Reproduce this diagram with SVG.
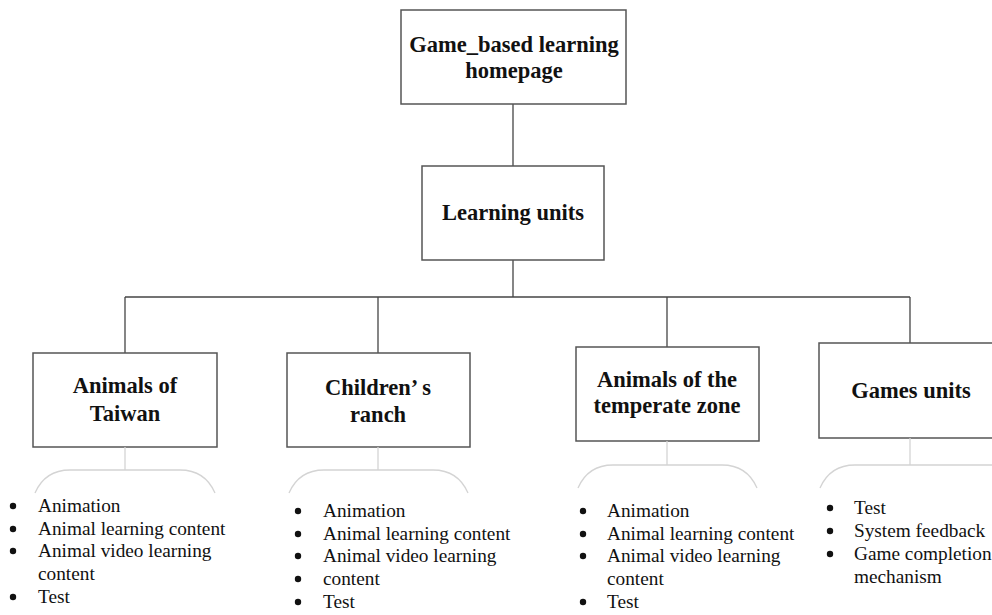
<svg xmlns="http://www.w3.org/2000/svg" width="992" height="615" viewBox="0 0 992 615">
<style>
.box{fill:#fff;stroke:#555;stroke-width:1.5}
.conn{stroke:#444;stroke-width:1.3;fill:none}
.brace{stroke:#d4d4d4;stroke-width:1.3;fill:none}
.t{font-family:"Liberation Serif",serif;font-weight:bold;font-size:22.5px;fill:#111;text-anchor:middle}
.l{font-family:"Liberation Serif",serif;font-size:19.3px;fill:#111}
.b{fill:#111}
</style>
<rect width="992" height="615" fill="#fff"/>
<g id="connectors">
<line class="conn" x1="513" y1="104" x2="513" y2="166"/>
<line class="conn" x1="513" y1="260" x2="513" y2="297"/>
<line class="conn" x1="125" y1="297" x2="910" y2="297"/>
<line class="conn" x1="125" y1="297" x2="125" y2="353"/>
<line class="conn" x1="378" y1="297" x2="378" y2="353"/>
<line class="conn" x1="667" y1="297" x2="667" y2="347"/>
<line class="conn" x1="910" y1="297" x2="910" y2="343"/>
</g>
<g id="homepage">
<rect class="box" x="401" y="10" width="225" height="94"/>
<text class="t" x="514" y="52">Game_based learning</text>
<text class="t" x="514" y="78">homepage</text>
</g>
<g id="learning-units">
<rect class="box" x="422" y="166" width="182" height="94"/>
<text class="t" x="513" y="220">Learning units</text>
</g>
<g id="taiwan">
<rect class="box" x="33" y="353" width="184" height="94"/>
<text class="t" x="125" y="393">Animals of</text>
<text class="t" x="125" y="421">Taiwan</text>
<path class="brace" d="M125 447 V470 M35 493 Q45 470 70 470 H180 Q205 470 215 493"/>
<circle class="b" cx="13" cy="506" r="3.2"/>
<circle class="b" cx="13" cy="529" r="3.2"/>
<circle class="b" cx="13" cy="551" r="3.2"/>
<circle class="b" cx="13" cy="597" r="3.2"/>
<text class="l" x="38" y="512">Animation</text>
<text class="l" x="38" y="535">Animal learning content</text>
<text class="l" x="38" y="557">Animal video learning</text>
<text class="l" x="38" y="580">content</text>
<text class="l" x="38" y="603">Test</text>
</g>
<g id="ranch">
<rect class="box" x="287" y="353" width="183" height="94"/>
<text class="t" x="378" y="395">Children’ s</text>
<text class="t" x="378" y="422">ranch</text>
<path class="brace" d="M378 447 V470 M289 493 Q299 470 324 470 H433 Q458 470 468 493"/>
<circle class="b" cx="298" cy="511" r="3.2"/>
<circle class="b" cx="298" cy="534" r="3.2"/>
<circle class="b" cx="298" cy="556" r="3.2"/>
<circle class="b" cx="298" cy="579" r="3.2"/>
<circle class="b" cx="298" cy="602" r="3.2"/>
<text class="l" x="323" y="517">Animation</text>
<text class="l" x="323" y="540">Animal learning content</text>
<text class="l" x="323" y="562">Animal video learning</text>
<text class="l" x="323" y="585">content</text>
<text class="l" x="323" y="608">Test</text>
</g>
<g id="temperate">
<rect class="box" x="576" y="347" width="183" height="94"/>
<text class="t" x="667" y="387">Animals of the</text>
<text class="t" x="667" y="413">temperate zone</text>
<path class="brace" d="M667 441 V465 M578 488 Q588 465 613 465 H722 Q747 465 757 488"/>
<circle class="b" cx="583" cy="511" r="3.2"/>
<circle class="b" cx="583" cy="534" r="3.2"/>
<circle class="b" cx="583" cy="556" r="3.2"/>
<circle class="b" cx="583" cy="602" r="3.2"/>
<text class="l" x="607" y="517">Animation</text>
<text class="l" x="607" y="540">Animal learning content</text>
<text class="l" x="607" y="562">Animal video learning</text>
<text class="l" x="607" y="585">content</text>
<text class="l" x="607" y="608">Test</text>
</g>
<g id="games">
<rect class="box" x="819" y="343" width="185" height="95"/>
<text class="t" x="911" y="398">Games units</text>
<path class="brace" d="M910 438 V465 M820 488 Q830 465 855 465 H992"/>
<circle class="b" cx="830" cy="508" r="3.2"/>
<circle class="b" cx="830" cy="531" r="3.2"/>
<circle class="b" cx="830" cy="554" r="3.2"/>
<text class="l" x="854" y="514">Test</text>
<text class="l" x="854" y="537">System feedback</text>
<text class="l" x="854" y="560">Game completion</text>
<text class="l" x="854" y="583">mechanism</text>
</g>
</svg>
